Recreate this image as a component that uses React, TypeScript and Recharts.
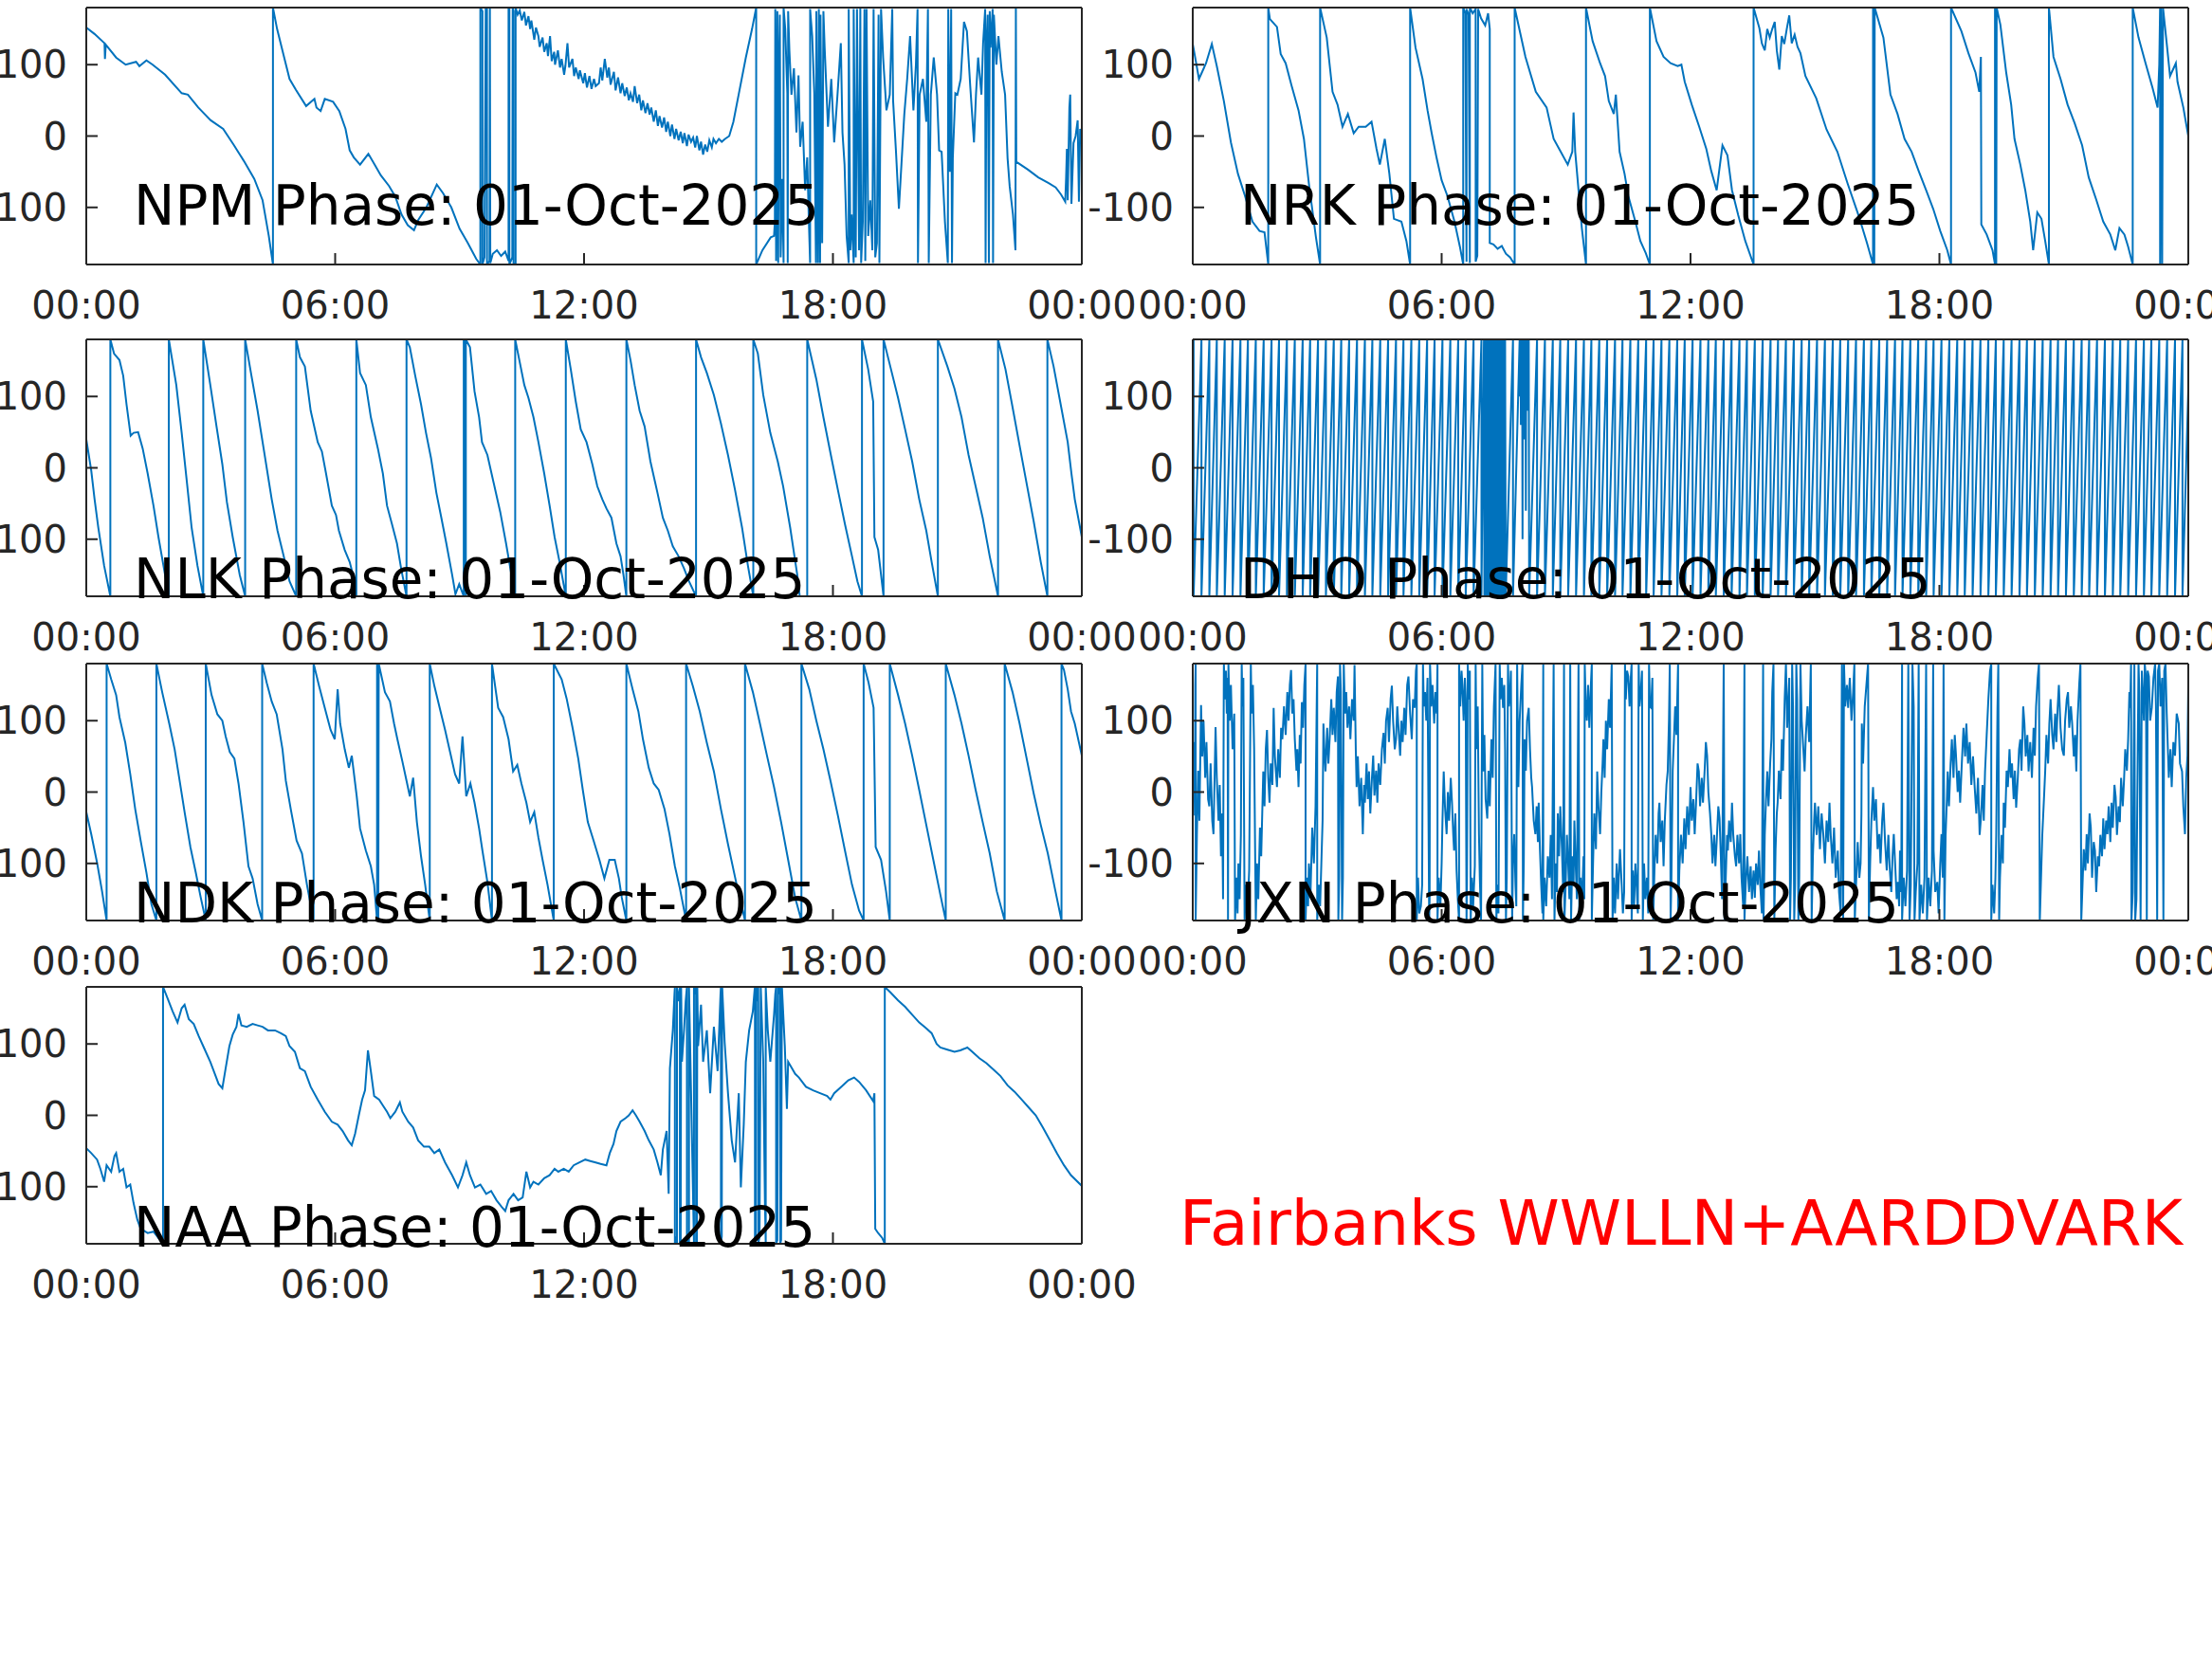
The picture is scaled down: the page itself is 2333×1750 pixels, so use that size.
import React from 'react';
import { LineChart, Line, XAxis, YAxis } from 'recharts';

type P = [number, number][];

const xTicks = [0, 6, 12, 18, 24];
const xTickLabels = ['00:00', '06:00', '12:00', '18:00', '00:00'];
const yTicks = [-100, 0, 100];
const dateLabel = '01-Oct-2025';
const footerText = 'Fairbanks WWLLN+AARDDVARK';

const npm: P = [
  [0,152],[0.2,143],[0.44,130],[0.45,108],[0.47,128],[0.72,110],[0.95,100],[1.2,104],[1.28,98],[1.45,106],[1.6,100],[1.9,86],[2.3,60],[2.45,58],[2.7,40],[3.0,22],[3.3,10],[3.55,-12],[3.8,-35],[4.05,-60],[4.25,-90],[4.4,-140],[4.5,-180],[4.5,180],[4.6,150],[4.75,115],[4.9,80],[5.05,65],[5.3,42],[5.5,52],[5.55,40],[5.65,35],[5.75,52],[5.95,48],[6.1,35],[6.25,10],[6.35,-20],[6.45,-30],[6.6,-40],[6.8,-25],[6.95,-40],[7.1,-55],[7.3,-70],[7.45,-85],[7.6,-110],[7.75,-125],[7.9,-132],[8.0,-118],[8.2,-100],[8.45,-68],[8.6,-80],[8.8,-100],[9.0,-130],[9.2,-150],[9.4,-172],[9.5,-180],[9.5,180],[9.55,175],[9.55,-180],[9.6,-170],[9.63,180],[9.66,178],[9.66,-180],[9.72,-175],[9.73,180],[9.74,-178],[9.8,-165],[9.9,-160],[10.0,-168],[10.1,-162],[10.18,-175],[10.18,180],[10.2,178],[10.2,-180],[10.27,-170],[10.28,180],[10.3,175],[10.3,-180],[10.35,-178],[10.35,180],
  [10.4,170],[10.45,176],[10.5,162],[10.56,174],[10.6,155],[10.66,168],[10.7,150],[10.73,162],[10.8,135],[10.84,152],[10.9,140],[10.93,125],[11.0,138],[11.04,118],[11.1,130],[11.13,112],[11.18,140],[11.22,105],[11.28,118],[11.3,100],[11.37,120],[11.42,96],[11.46,108],[11.52,86],[11.55,98],[11.6,130],[11.64,96],[11.72,108],[11.76,84],[11.8,96],[11.87,80],[11.9,92],[11.98,74],[12.02,88],[12.07,68],[12.13,84],[12.18,66],[12.24,80],[12.28,70],[12.36,74],[12.4,96],[12.44,78],[12.5,108],[12.56,82],[12.6,96],[12.64,72],[12.72,90],[12.76,64],[12.82,82],[12.88,60],[12.92,74],[12.98,56],[13.03,68],[13.08,50],[13.12,60],[13.18,48],[13.22,70],[13.28,46],[13.33,58],[13.38,36],[13.42,50],[13.48,32],[13.53,46],[13.58,30],[13.62,40],[13.68,20],[13.73,36],[13.78,14],[13.82,28],[13.88,12],[13.93,26],[13.98,6],[14.02,20],[14.08,0],[14.12,16],[14.18,-4],[14.22,10],[14.28,-6],[14.33,6],[14.38,-10],[14.42,4],[14.48,-14],[14.52,2],[14.58,-8],[14.63,-2],[14.68,-16],[14.72,0],[14.78,-20],[14.82,-8],[14.87,-26],[14.92,-12],[14.97,-22],[15.02,-6],[15.08,-16],[15.12,-4],[15.18,-10],[15.25,-4],[15.32,-8],[15.4,-4],[15.5,0],[15.6,20],[15.75,65],[15.9,110],[16.05,150],[16.15,180],[16.15,-180],[16.3,-160],[16.5,-142],[16.58,-140],
  [16.6,-120],[16.61,178],[16.63,-175],[16.66,175],[16.68,-178],[16.7,100],[16.72,170],[16.74,-170],[16.78,-60],[16.81,-178],[16.81,180],[16.85,150],[16.9,60],[16.91,-178],[16.92,175],[16.95,120],[17.0,58],[17.06,95],[17.12,5],[17.17,85],[17.21,-15],[17.27,20],[17.33,-76],[17.38,-30],[17.42,-120],[17.45,-178],[17.45,178],[17.5,140],[17.55,60],[17.59,-178],[17.6,175],[17.64,-178],[17.66,178],[17.69,-178],[17.7,170],[17.74,-150],[17.77,175],[17.8,124],[17.88,13],[17.96,80],[18.03,-9],[18.11,58],[18.19,130],[18.23,5],[18.28,-40],[18.33,-140],[18.38,-178],[18.38,178],[18.42,-160],[18.45,-110],[18.5,-178],[18.5,178],[18.55,-170],[18.58,178],[18.63,-160],[18.66,180],[18.68,-178],[18.72,-120],[18.76,178],[18.78,-175],[18.81,178],[18.85,-140],[18.9,-90],[18.95,-160],[18.98,178],[19.02,-170],[19.06,-150],[19.1,170],[19.12,-178],[19.16,178],[19.21,110],[19.29,36],[19.37,58],[19.43,178],[19.45,50],[19.52,-22],[19.59,-102],[19.66,-31],[19.72,30],[19.79,80],[19.86,140],[19.94,36],[20.0,100],[20.04,178],[20.05,-178],[20.09,58],[20.17,80],[20.25,20],[20.29,178],[20.31,-178],[20.36,58],[20.43,110],[20.51,58],[20.56,-20],[20.62,-22],[20.7,-120],[20.77,-178],[20.78,178],[20.82,-50],[20.85,178],[20.87,-178],[20.89,-31],[20.95,60],[21.0,58],[21.08,80],[21.16,160],[21.23,147],[21.31,70],[21.4,-9],[21.45,60],[21.5,110],[21.58,58],[21.62,130],[21.67,178],[21.68,-178],[21.7,120],[21.73,170],[21.76,-178],[21.78,175],[21.8,124],[21.85,178],[21.86,-178],[21.88,170],[21.94,100],[21.99,140],[22.07,90],[22.15,58],[22.21,-31],[22.26,-70],[22.34,-110],[22.4,-160],[22.41,180],[22.42,-36],
  [22.7,-47],[22.95,-58],[23.2,-66],[23.37,-72],[23.5,-82],[23.6,-92],[23.62,-60],[23.64,-18],[23.66,-90],[23.7,40],[23.72,58],[23.75,-95],[23.8,-10],[23.85,0],[23.9,22],[23.93,-92],[23.96,10],[24,-5]
];

const nrk: P = [
  [0,129],[0.15,80],[0.32,102],[0.46,129],[0.58,98],[0.75,49],[0.92,-9],[1.09,-53],[1.26,-84],[1.44,-120],[1.61,-133],[1.73,-135],[1.82,-180],[1.82,180],[1.86,164],[2.03,153],[2.12,115],[2.24,102],[2.38,71],[2.55,36],[2.68,-4],[2.8,-67],[2.97,-142],[3.07,-180],[3.07,180],[3.23,138],[3.37,62],[3.49,44],[3.61,13],[3.74,31],[3.88,4],[4.0,13],[4.17,13],[4.31,20],[4.43,-18],[4.51,-40],[4.63,-4],[4.74,-53],[4.85,-116],[5.03,-120],[5.15,-147],[5.24,-180],[5.24,180],[5.37,124],[5.54,80],[5.66,36],[5.76,4],[5.88,-31],[6.0,-62],[6.14,-84],[6.31,-120],[6.44,-155],[6.52,-180],[6.52,180],[6.57,172],[6.6,-176],[6.6,178],[6.65,170],[6.68,-178],[6.68,180],[6.75,172],[6.82,178],[6.82,-176],[6.86,-168],[6.88,178],[6.95,165],[7.05,155],[7.12,172],[7.16,150],[7.16,-150],[7.25,-152],[7.35,-158],[7.45,-154],[7.55,-165],[7.65,-170],[7.76,-180],[7.76,180],[8.02,111],[8.27,62],[8.53,40],[8.7,-4],[8.87,-22],[9.04,-40],[9.15,-22],[9.18,33],[9.22,-22],[9.38,-129],[9.48,-180],[9.48,180],[9.64,133],[9.82,102],[9.94,84],[10.03,49],[10.15,31],[10.2,58],[10.29,-22],[10.41,-53],[10.5,-84],[10.67,-120],[10.79,-147],[10.92,-164],[11.02,-180],[11.02,180],[11.18,133],[11.35,111],[11.52,102],[11.69,98],[11.78,100],[11.86,76],[12.03,44],[12.21,13],[12.38,-18],[12.5,-49],[12.63,-76],[12.77,-13],[12.89,-27],[13.0,-76],[13.15,-111],[13.32,-147],[13.52,-180],[13.52,180],[13.66,151],[13.72,130],[13.79,120],[13.85,150],[13.91,138],[13.97,150],[14.03,160],[14.08,120],[14.14,93],[14.2,140],[14.26,129],[14.32,150],[14.38,169],[14.44,130],[14.51,142],[14.58,125],[14.65,116],[14.77,84],[15.03,53],[15.28,9],[15.54,-22],[15.79,-67],[16.05,-111],[16.26,-151],[16.4,-180],[16.4,180],[16.42,178],[16.43,-180],[16.44,180],[16.65,138],[16.82,58],[16.99,31],[17.16,-4],[17.33,-22],[17.5,-49],[17.68,-76],[17.85,-102],[18.02,-133],[18.19,-160],[18.28,-180],[18.28,180],[18.53,147],[18.7,116],[18.87,89],[18.96,62],[19.0,111],[19.01,-124],[19.14,-138],[19.28,-160],[19.34,-180],[19.34,180],[19.36,178],[19.37,-180],[19.38,180],[19.47,156],[19.61,89],[19.73,44],[19.81,-4],[19.95,-40],[20.07,-76],[20.19,-120],[20.26,-160],[20.36,-107],[20.46,-116],[20.55,-147],[20.64,-180],[20.64,180],[20.75,111],[20.92,80],[21.09,44],[21.26,18],[21.44,-13],[21.6,-58],[21.78,-89],[21.95,-120],[22.12,-138],[22.24,-160],[22.34,-129],[22.46,-138],[22.55,-155],[22.66,-180],[22.66,180],[22.8,138],[22.97,102],[23.14,67],[23.26,40],[23.3,100],[23.32,180],[23.32,-180],[23.34,180],[23.37,-180],[23.39,180],[23.49,124],[23.56,84],[23.7,102],[23.74,76],[23.88,40],[24,0]
];

const nlk: P = [
  [0,40],[0.12,-4],[0.2,-44],[0.29,-84],[0.43,-137],[0.58,-180],[0.58,180],[0.67,160],[0.8,151],[0.89,129],[0.97,89],[1.07,45],[1.14,49],[1.25,50],[1.36,27],[1.48,-8],[1.62,-53],[1.74,-97],[1.86,-137],[1.99,-180],[1.99,180],[2.17,116],[2.3,49],[2.42,-17],[2.54,-84],[2.68,-137],[2.82,-180],[2.82,180],[2.99,116],[3.14,58],[3.28,5],[3.39,-48],[3.53,-97],[3.7,-150],[3.83,-180],[3.83,180],[3.97,133],[4.13,80],[4.3,18],[4.47,-44],[4.61,-88],[4.76,-124],[4.9,-159],[5.06,-180],[5.06,180],[5.15,155],[5.27,142],[5.41,80],[5.58,36],[5.68,23],[5.78,-8],[5.92,-53],[6.02,-66],[6.09,-88],[6.23,-115],[6.35,-132],[6.43,-150],[6.51,-180],[6.51,180],[6.6,133],[6.74,116],[6.86,71],[7.03,27],[7.15,-8],[7.25,-53],[7.37,-79],[7.49,-106],[7.59,-141],[7.72,-180],[7.72,180],[7.8,169],[7.93,129],[8.07,89],[8.19,49],[8.31,14],[8.44,-35],[8.56,-70],[8.68,-106],[8.82,-150],[8.9,-177],[8.99,-163],[9.1,-180],[9.1,180],[9.12,175],[9.15,-180],[9.15,180],[9.25,169],[9.36,107],[9.47,71],[9.54,36],[9.67,18],[9.84,-26],[9.98,-62],[10.12,-106],[10.25,-150],[10.34,-180],[10.34,180],[10.44,151],[10.56,116],[10.66,98],[10.78,71],[10.9,36],[11.04,-8],[11.17,-53],[11.29,-97],[11.41,-132],[11.56,-180],[11.56,180],[11.68,138],[11.8,93],[11.92,54],[12.06,36],[12.2,5],[12.32,-26],[12.44,-44],[12.54,-57],[12.66,-70],[12.78,-106],[12.88,-124],[12.95,-150],[13.02,-180],[13.02,180],[13.12,151],[13.22,116],[13.34,80],[13.46,58],[13.6,9],[13.77,-35],[13.9,-70],[14.02,-88],[14.14,-110],[14.28,-124],[14.41,-141],[14.53,-159],[14.7,-180],[14.7,180],[14.82,155],[14.96,133],[15.13,102],[15.3,62],[15.47,18],[15.64,-31],[15.81,-84],[15.95,-137],[16.08,-180],[16.08,180],[16.19,160],[16.32,102],[16.49,49],[16.67,9],[16.8,-26],[16.97,-84],[17.14,-150],[17.2,-180],[17.38,-180],[17.38,180],[17.6,124],[17.77,71],[17.95,18],[18.12,-31],[18.29,-79],[18.46,-124],[18.59,-159],[18.7,-180],[18.7,180],[18.85,138],[18.97,93],[19.0,-97],[19.09,-115],[19.22,-180],[19.22,180],[19.4,138],[19.57,98],[19.74,54],[19.91,9],[20.08,-44],[20.25,-88],[20.38,-132],[20.53,-180],[20.53,180],[20.76,142],[20.93,111],[21.1,71],[21.27,18],[21.44,-26],[21.61,-70],[21.78,-124],[21.92,-163],[21.98,-180],[21.98,180],[22.16,138],[22.33,85],[22.5,31],[22.67,-22],[22.84,-75],[23.01,-132],[23.17,-180],[23.17,180],[23.32,142],[23.49,89],[23.66,36],[23.75,-8],[23.83,-44],[24,-97]
];

const dhoWrapsEarly = [0.02,0.21,0.40,0.58,0.77,0.96,1.15,1.33,1.52,1.71,1.90,2.08,2.27,2.46,2.65,2.83,3.02,3.21,3.40,3.58,3.77,3.96,4.15,4.33,4.52,4.71,4.90,5.08,5.27,5.46,5.65,5.83,6.02,6.21,6.40,6.58,6.77,6.96];
const dhoBurst: P = [
  [7.02,180],[7.03,-180],[7.045,180],[7.06,-180],[7.075,180],[7.09,-180],[7.1,180],[7.115,-180],[7.13,180],[7.145,-180],[7.16,180],[7.17,-180],[7.185,180],[7.2,-180],[7.215,180],[7.23,-180],[7.245,180],[7.26,-180],[7.27,180],[7.285,-180],[7.3,180],[7.315,-180],[7.33,180],[7.345,-180],[7.36,180],[7.37,-180],[7.385,180],[7.4,-180],[7.415,180],[7.43,-180],[7.445,180],[7.46,-180],[7.47,180],[7.485,-180],[7.5,180],[7.515,-180],[7.53,180],[7.545,-180],
  [7.72,180],[7.72,-180],[7.88,180],[7.89,100],[7.9,180],[7.91,60],[7.92,180],[7.93,120],[7.94,180],[7.95,-100],[7.96,180],[7.97,100],[7.98,180],[7.99,40],[8.0,180],[8.01,110],[8.02,180],[8.03,-60],[8.04,180],[8.05,100],[8.06,180],[8.07,80],[8.08,180],[8.09,120],[8.1,180],[8.11,-180]
];
const dhoWrapsLate = [8.30,8.49,8.68,8.86,9.05,9.24,9.43,9.61,9.80,9.99,10.18,10.36,10.55,10.74,10.93,11.11,11.30,11.49,11.68,11.86,12.05,12.24,12.43,12.61,12.80,12.99,13.18,13.36,13.55,13.74,13.93,14.11,14.30,14.49,14.68,14.86,15.05,15.24,15.43,15.61,15.80,15.99,16.18,16.36,16.55,16.74,16.93,17.11,17.30,17.49,17.68,17.86,18.05,18.24,18.43,18.61,18.80,18.99,19.18,19.36,19.55,19.74,19.93,20.11,20.30,20.49,20.68,20.86,21.05,21.24,21.43,21.61,21.80,21.99,22.18,22.36,22.55,22.74,22.93,23.11,23.30,23.49,23.68,23.86];
const dhoStart: [number, number] = [0, 140];
const dhoEnd: [number, number] = [24, 110];

const ndk: P = [
  [0,-28],[0.12,-59],[0.26,-99],[0.38,-139],[0.49,-180],[0.49,180],[0.6,158],[0.72,136],[0.8,105],[0.94,69],[1.06,25],[1.18,-24],[1.31,-68],[1.45,-113],[1.57,-157],[1.69,-180],[1.69,180],[1.83,140],[2.0,96],[2.13,60],[2.25,16],[2.37,-28],[2.51,-77],[2.64,-113],[2.76,-148],[2.88,-180],[2.88,180],[3.02,136],[3.16,109],[3.28,100],[3.36,78],[3.46,56],[3.57,47],[3.67,12],[3.79,-42],[3.91,-104],[4.01,-121],[4.13,-157],[4.24,-180],[4.24,180],[4.35,153],[4.47,127],[4.59,109],[4.73,60],[4.81,16],[4.93,-24],[5.07,-68],[5.2,-86],[5.32,-130],[5.48,-180],[5.48,180],[5.61,149],[5.75,118],[5.89,87],[5.99,74],[6.06,144],[6.12,96],[6.23,60],[6.33,34],[6.4,51],[6.52,-6],[6.6,-51],[6.74,-82],[6.86,-104],[6.94,-130],[7.01,-180],[7.01,180],[7.03,170],[7.04,-180],[7.05,180],[7.2,140],[7.32,127],[7.42,96],[7.5,74],[7.62,43],[7.72,16],[7.8,-6],[7.88,20],[7.97,-42],[8.07,-90],[8.17,-130],[8.28,-180],[8.28,180],[8.39,149],[8.52,118],[8.65,87],[8.77,56],[8.89,25],[8.99,12],[9.07,78],[9.16,-6],[9.26,12],[9.36,-15],[9.47,-51],[9.55,-82],[9.67,-126],[9.78,-180],[9.78,180],[9.93,118],[10.05,105],[10.18,74],[10.29,29],[10.39,38],[10.49,12],[10.61,-15],[10.7,-42],[10.8,-28],[10.9,-64],[11.0,-95],[11.12,-130],[11.27,-180],[11.27,180],[11.38,167],[11.46,158],[11.58,131],[11.72,91],[11.86,47],[11.97,3],[12.09,-42],[12.23,-68],[12.37,-95],[12.49,-121],[12.61,-95],[12.74,-95],[12.84,-121],[12.91,-148],[13.02,-180],[13.02,180],[13.17,144],[13.31,113],[13.42,74],[13.56,34],[13.68,12],[13.8,3],[13.94,-24],[14.06,-59],[14.19,-104],[14.31,-135],[14.46,-180],[14.46,180],[14.62,149],[14.79,113],[14.96,69],[15.13,29],[15.3,-24],[15.47,-73],[15.68,-130],[15.88,-180],[15.88,180],[16.07,140],[16.24,96],[16.41,51],[16.58,7],[16.75,-42],[16.92,-95],[17.09,-148],[17.24,-180],[17.24,180],[17.43,144],[17.6,100],[17.77,60],[17.94,16],[18.12,-33],[18.29,-82],[18.46,-130],[18.63,-166],[18.74,-180],[18.74,180],[18.86,153],[18.98,118],[19.03,-77],[19.16,-95],[19.28,-139],[19.37,-180],[19.37,180],[19.57,136],[19.74,96],[19.91,51],[20.08,3],[20.25,-46],[20.42,-95],[20.59,-144],[20.72,-180],[20.72,180],[20.93,136],[21.1,96],[21.27,51],[21.44,3],[21.61,-42],[21.78,-86],[21.95,-139],[22.14,-180],[22.14,180],[22.33,140],[22.5,96],[22.67,47],[22.84,-2],[23.01,-46],[23.18,-86],[23.35,-135],[23.51,-180],[23.51,180],[23.57,171],[23.66,144],[23.74,113],[23.83,96],[24,51]
];

const jxn: P = [
  [0,29],[0.03,70],[0.05,-33],[0.06,150],[0.07,180],[0.07,-180],[0.1,-60],[0.13,30],[0.16,-40],[0.2,122],[0.23,50],[0.26,100],[0.3,20],[0.33,70],[0.37,-10],[0.4,-20],[0.43,40],[0.47,-40],[0.5,-59],[0.53,30],[0.55,91],[0.58,20],[0.62,-40],[0.65,10],[0.68,-90],[0.71,-30],[0.73,-150],[0.75,180],[0.78,130],[0.8,170],[0.82,110],[0.84,160],[0.85,-180],[0.86,180],[0.89,100],[0.92,150],[0.96,60],
  [1.0,110],[1.02,-180],[1.05,-120],[1.08,-170],[1.1,-100],[1.13,-150],[1.16,-60],[1.18,180],[1.2,120],[1.22,160],[1.25,-180],[1.28,-130],[1.32,-170],[1.36,-110],[1.4,180],[1.42,110],[1.45,150],[1.48,60],[1.52,-180],[1.55,-100],[1.58,-150],[1.62,-50],[1.65,-90],[1.7,29],[1.73,-20],[1.76,60],[1.79,87],[1.82,20],[1.85,-15],[1.88,40],[1.92,10],[1.95,118],[1.98,50],
  [2.03,7],[2.06,60],[2.1,20],[2.13,90],[2.16,74],[2.2,120],[2.24,80],[2.28,140],[2.31,100],[2.34,150],[2.37,171],[2.4,110],[2.43,130],[2.46,74],[2.5,30],[2.52,60],[2.55,7],[2.58,80],[2.6,40],[2.63,126],[2.66,90],[2.69,150],[2.72,180],[2.72,-180],[2.75,-120],[2.78,-160],[2.8,-100],[2.84,-140],[2.88,-50],[2.92,-100],[2.96,-20],
  [3.0,180],[3.0,-180],[3.04,-130],[3.07,-160],[3.1,-100],[3.13,-40],[3.15,96],[3.18,50],[3.2,29],[3.24,90],[3.27,40],[3.3,74],[3.34,130],[3.37,80],[3.4,118],[3.44,70],[3.47,140],[3.5,162],[3.51,-180],[3.53,-120],[3.55,180],[3.57,140],[3.6,-180],[3.62,-120],[3.64,180],[3.67,110],[3.7,140],[3.73,90],[3.77,120],[3.8,74],[3.84,130],[3.88,100],[3.9,178],[3.93,60],[3.95,7],[3.98,50],
  [4.02,-20],[4.06,20],[4.1,-59],[4.13,10],[4.15,-15],[4.19,40],[4.22,-10],[4.25,29],[4.28,-30],[4.32,20],[4.35,51],[4.38,-5],[4.42,30],[4.45,-15],[4.48,40],[4.52,10],[4.56,60],[4.6,83],[4.63,40],[4.66,100],[4.7,118],[4.73,70],[4.77,130],[4.8,149],[4.83,100],[4.87,60],[4.9,74],[4.93,120],[4.97,80],
  [5.0,51],[5.03,100],[5.06,70],[5.1,118],[5.13,80],[5.17,150],[5.2,162],[5.24,110],[5.28,74],[5.31,130],[5.35,118],[5.38,170],[5.4,180],[5.4,-180],[5.43,-120],[5.46,-170],[5.5,-160],[5.53,-130],[5.55,180],[5.57,120],[5.6,140],[5.63,100],[5.66,160],[5.7,-180],[5.71,-150],[5.72,180],[5.75,120],[5.78,150],[5.82,96],[5.85,140],[5.88,110],[5.9,180],[5.9,-180],[5.93,-120],[5.97,-160],
  [6.0,-100],[6.02,-40],[6.05,29],[6.08,-20],[6.12,-59],[6.15,0],[6.18,-40],[6.22,20],[6.25,-15],[6.28,-60],[6.3,-82],[6.33,-30],[6.36,-110],[6.39,-150],[6.42,-180],[6.42,180],[6.45,120],[6.48,170],[6.5,150],[6.53,100],[6.56,160],[6.58,130],[6.6,-180],[6.61,-130],[6.63,180],[6.65,130],[6.68,170],[6.7,-180],[6.73,-120],[6.76,-160],[6.8,-104],[6.82,180],[6.84,60],[6.87,120],[6.9,-60],[6.92,-120],[6.95,-180],[6.98,180],
  [7.0,29],[7.03,80],[7.06,-10],[7.1,-37],[7.13,30],[7.16,-20],[7.2,74],[7.23,20],[7.26,120],[7.28,150],[7.3,180],[7.32,-180],[7.34,-130],[7.37,-170],[7.4,180],[7.42,130],[7.45,160],[7.48,118],[7.51,150],[7.53,60],[7.55,-180],[7.57,-120],[7.6,180],[7.62,120],[7.65,140],[7.67,170],[7.7,-180],[7.72,-100],[7.75,-59],[7.78,-130],[7.8,-160],[7.82,180],[7.84,60],[7.85,7],[7.88,100],[7.92,150],[7.95,180],[7.96,-180],[7.98,-100],
  [8.0,74],[8.03,30],[8.06,100],[8.1,118],[8.13,60],[8.16,20],[8.18,7],[8.22,-40],[8.26,-59],[8.29,-20],[8.32,-70],[8.34,-15],[8.37,-80],[8.4,-130],[8.43,-170],[8.45,180],[8.45,-180],[8.48,-120],[8.52,-160],[8.56,-90],[8.6,-120],[8.63,-60],[8.66,-150],[8.7,180],[8.72,-180],[8.75,-100],[8.78,-140],[8.8,-30],[8.83,-90],[8.86,-20],[8.9,-80],[8.93,-140],[8.95,180],[8.96,-180],[8.99,-130],
  [9.02,-60],[9.05,-100],[9.08,-150],[9.1,180],[9.12,-180],[9.15,-90],[9.18,-130],[9.2,-40],[9.23,-100],[9.26,-150],[9.3,180],[9.32,-180],[9.35,-120],[9.38,-160],[9.42,-90],[9.44,-150],[9.45,180],[9.47,130],[9.5,100],[9.53,150],[9.56,90],[9.59,140],[9.62,180],[9.62,-180],[9.65,-100],[9.68,-30],[9.72,-80],[9.75,29],[9.78,-20],[9.82,-59],[9.85,0],[9.88,40],[9.9,74],[9.93,20],[9.96,100],[9.99,60],
  [10.03,130],[10.06,90],[10.1,180],[10.12,-180],[10.15,-120],[10.18,-170],[10.22,-100],[10.25,-150],[10.3,-80],[10.34,-130],[10.37,-170],[10.4,-140],[10.42,180],[10.44,130],[10.47,170],[10.5,162],[10.53,120],[10.56,160],[10.58,180],[10.58,-180],[10.61,-110],[10.64,-160],[10.67,-100],[10.7,-130],[10.73,-170],[10.75,180],[10.77,120],[10.8,140],[10.83,170],[10.85,-180],[10.88,-100],[10.91,-150],[10.95,-120],[10.98,-170],
  [11.0,180],[11.02,120],[11.05,118],[11.08,160],[11.1,-180],[11.13,-110],[11.16,-60],[11.2,-100],[11.23,-30],[11.25,-15],[11.28,-70],[11.32,-40],[11.35,-104],[11.38,-40],[11.42,10],[11.45,29],[11.48,100],[11.5,180],[11.52,-180],[11.54,-120],[11.57,30],[11.6,74],[11.63,120],[11.66,80],[11.7,180],[11.7,-180],[11.73,-110],[11.77,-60],[11.81,-100],[11.85,-37],[11.88,-80],[11.92,-20],[11.96,-60],
  [12.0,7],[12.03,-40],[12.07,-10],[12.1,-59],[12.13,-20],[12.17,40],[12.2,29],[12.23,-20],[12.27,20],[12.3,-15],[12.34,30],[12.37,70],[12.4,51],[12.43,0],[12.47,-30],[12.5,-59],[12.53,-100],[12.57,-60],[12.6,-104],[12.63,-70],[12.67,-20],[12.7,-37],[12.73,-90],[12.76,-150],[12.8,180],[12.82,-180],[12.85,-120],[12.88,-60],[12.9,-82],[12.93,-40],[12.97,-70],
  [13.0,-15],[13.03,-60],[13.07,-90],[13.1,-104],[13.13,-60],[13.17,-100],[13.2,-59],[13.23,-120],[13.27,-160],[13.3,180],[13.3,-180],[13.33,-130],[13.37,-90],[13.41,-140],[13.45,-104],[13.48,-150],[13.52,-110],[13.55,-148],[13.58,-100],[13.62,-130],[13.65,-82],[13.68,-130],[13.72,-170],[13.75,180],[13.76,-180],[13.79,-60],[13.82,-10],[13.85,29],[13.88,-20],[13.92,40],[13.95,74],[13.97,140],
  [14.0,180],[14.02,-180],[14.05,-80],[14.08,-30],[14.1,-15],[14.13,30],[14.17,-10],[14.2,74],[14.23,30],[14.27,130],[14.3,180],[14.33,90],[14.35,118],[14.38,160],[14.4,-180],[14.42,-120],[14.45,180],[14.47,120],[14.5,-180],[14.52,-130],[14.55,180],[14.57,130],[14.6,-180],[14.62,-120],[14.65,180],[14.68,100],[14.72,60],[14.75,29],[14.78,80],[14.82,120],[14.86,70],[14.9,180],[14.92,-180],[14.95,-90],[14.98,-40],
  [15.0,-15],[15.04,-60],[15.08,-20],[15.12,-80],[15.16,-30],[15.2,-59],[15.24,-100],[15.28,-40],[15.32,-70],[15.35,-15],[15.38,-60],[15.42,-100],[15.46,-50],[15.5,-120],[15.55,-82],[15.58,-140],[15.62,-170],[15.65,180],[15.68,-180],[15.7,180],[15.73,120],[15.77,150],[15.8,118],[15.84,160],[15.88,100],[15.92,140],[15.95,180],[15.96,-180],[15.99,-130],
  [16.03,-70],[16.07,-120],[16.1,-100],[16.12,-30],[16.13,96],[16.16,40],[16.2,120],[16.24,150],[16.28,180],[16.3,-180],[16.33,-100],[16.36,-40],[16.4,7],[16.43,-40],[16.47,-10],[16.51,-80],[16.55,-59],[16.58,-100],[16.62,-40],[16.65,-15],[16.69,-70],[16.73,-110],[16.77,-60],[16.8,-104],[16.84,-140],[16.87,-90],[16.9,-59],[16.94,-110],[16.97,-150],
  [17.0,-126],[17.03,-160],[17.05,-82],[17.08,-140],[17.1,180],[17.1,-180],[17.14,-120],[17.18,-160],[17.22,-110],[17.25,180],[17.28,-180],[17.31,-130],[17.35,180],[17.38,120],[17.4,-180],[17.43,-140],[17.47,-100],[17.5,180],[17.52,-180],[17.56,-130],[17.6,-170],[17.64,-120],[17.68,180],[17.7,-180],[17.74,-120],[17.78,-160],[17.82,-110],[17.85,180],[17.86,-82],[17.9,-140],[17.95,-126],[17.98,-170],
  [18.02,-100],[18.05,-59],[18.08,-120],[18.1,180],[18.12,-180],[18.15,-60],[18.18,-10],[18.2,29],[18.23,-20],[18.27,40],[18.3,74],[18.34,20],[18.37,80],[18.4,51],[18.44,0],[18.47,30],[18.5,-15],[18.54,40],[18.58,90],[18.62,50],[18.65,96],[18.69,40],[18.73,70],[18.77,10],[18.81,50],[18.85,7],[18.89,-30],[18.93,20],[18.97,-60],
  [19.0,-37],[19.04,10],[19.07,-40],[19.1,29],[19.14,80],[19.18,130],[19.22,170],[19.25,180],[19.25,-180],[19.28,-130],[19.32,-170],[19.35,-120],[19.37,-60],[19.4,118],[19.42,180],[19.44,-180],[19.46,-120],[19.5,-60],[19.53,-100],[19.55,-15],[19.58,-50],[19.62,30],[19.65,7],[19.69,60],[19.72,20],[19.75,40],[19.79,-10],[19.82,30],[19.85,-22],[19.89,20],[19.92,60],[19.95,74],[19.98,30],
  [20.02,120],[20.05,96],[20.08,50],[20.12,80],[20.15,29],[20.19,70],[20.23,20],[20.27,90],[20.3,51],[20.33,120],[20.37,160],[20.4,180],[20.42,-180],[20.45,-120],[20.48,-60],[20.52,-10],[20.55,29],[20.58,80],[20.62,40],[20.65,96],[20.68,130],[20.72,80],[20.75,60],[20.79,110],[20.82,70],[20.85,118],[20.88,150],[20.92,90],[20.96,60],
  [21.0,51],[21.03,100],[21.07,130],[21.1,140],[21.13,90],[21.17,120],[21.2,96],[21.24,50],[21.27,80],[21.3,29],[21.33,100],[21.37,150],[21.4,180],[21.42,-180],[21.45,-130],[21.48,-80],[21.52,-110],[21.55,-59],[21.58,-100],[21.62,-30],[21.65,-50],[21.68,-120],[21.72,-70],[21.75,-82],[21.78,-140],[21.82,-90],[21.85,-104],[21.88,-60],[21.92,-90],[21.95,-37],[21.98,-80],
  [22.02,-40],[22.05,-59],[22.08,-20],[22.12,-70],[22.15,-15],[22.18,-50],[22.22,10],[22.25,-7],[22.28,-60],[22.32,-20],[22.35,-42],[22.38,20],[22.42,-20],[22.45,16],[22.48,60],[22.52,30],[22.55,74],[22.58,140],[22.6,118],[22.62,180],[22.63,-180],[22.66,-140],[22.7,180],[22.72,-180],[22.75,-150],[22.8,180],[22.82,140],[22.85,-180],[22.88,170],[22.9,140],[22.93,100],[22.95,180],[22.98,160],
  [23.0,-180],[23.02,170],[23.05,162],[23.08,100],[23.12,118],[23.16,160],[23.2,180],[23.22,120],[23.25,-180],[23.27,170],[23.3,180],[23.33,120],[23.37,160],[23.4,-180],[23.42,170],[23.45,180],[23.48,110],[23.5,74],[23.53,20],[23.57,60],[23.6,7],[23.64,70],[23.68,51],[23.72,110],[23.77,96],[23.8,40],[23.85,29],[23.88,-20],[23.92,-59],[23.95,20],[23.98,51],[24,150]
];

const naa: P = [
  [0,-46],[0.12,-53],[0.26,-62],[0.34,-75],[0.43,-93],[0.49,-70],[0.6,-79],[0.68,-57],[0.72,-53],[0.8,-79],[0.89,-75],[0.97,-101],[1.06,-97],[1.14,-123],[1.23,-146],[1.31,-159],[1.48,-165],[1.62,-163],[1.74,-172],[1.85,-180],[1.85,180],[1.96,164],[2.08,146],[2.2,130],[2.3,150],[2.37,155],[2.47,135],[2.59,128],[2.71,111],[2.85,93],[2.99,75],[3.1,58],[3.19,44],[3.28,38],[3.36,66],[3.45,97],[3.53,113],[3.62,124],[3.67,142],[3.74,126],[3.87,124],[4.01,128],[4.13,126],[4.25,124],[4.38,119],[4.55,119],[4.69,115],[4.81,111],[4.9,97],[5.03,89],[5.15,66],[5.27,62],[5.41,40],[5.58,22],[5.75,5],[5.92,-9],[6.06,-13],[6.18,-22],[6.31,-35],[6.4,-42],[6.48,-26],[6.57,0],[6.65,22],[6.72,35],[6.79,91],[6.86,62],[6.94,27],[7.06,22],[7.16,13],[7.25,5],[7.33,-4],[7.45,5],[7.56,18],[7.62,5],[7.76,-9],[7.88,-17],[8.0,-35],[8.14,-44],[8.27,-44],[8.39,-53],[8.51,-48],[8.65,-66],[8.82,-84],[8.96,-101],[9.07,-84],[9.16,-66],[9.25,-84],[9.37,-101],[9.5,-97],[9.64,-110],[9.76,-106],[9.89,-119],[10.01,-128],[10.1,-134],[10.18,-119],[10.3,-110],[10.41,-119],[10.52,-115],[10.61,-79],[10.7,-101],[10.78,-93],[10.9,-97],[11.04,-88],[11.17,-84],[11.29,-75],[11.38,-79],[11.51,-75],[11.63,-79],[11.75,-70],[11.89,-66],[12.03,-62],[12.15,-64],[12.28,-66],[12.4,-68],[12.54,-70],[12.62,-53],[12.71,-40],[12.78,-22],[12.88,-9],[13.0,-4],[13.08,0],[13.17,7],[13.25,0],[13.34,-9],[13.46,-22],[13.56,-35],[13.68,-48],[13.77,-66],[13.85,-84],[13.9,-48],[13.99,-22],
  [14.04,-110],[14.07,66],[14.14,119],[14.18,170],[14.19,180],[14.19,-180],[14.22,-170],[14.24,-180],[14.24,180],[14.28,160],[14.31,180],[14.31,-180],[14.33,-175],[14.34,180],[14.36,75],[14.41,119],[14.45,160],[14.48,180],[14.48,-180],[14.5,-176],[14.53,-180],[14.53,180],[14.58,31],[14.63,-120],[14.65,-180],[14.65,180],[14.68,170],[14.7,180],[14.7,-180],[14.72,-178],[14.73,180],[14.75,97],[14.82,155],[14.87,75],[14.96,119],[15.04,31],[15.13,124],[15.22,62],[15.29,170],[15.3,180],[15.3,-180],[15.32,-170],[15.33,180],[15.39,102],[15.47,31],[15.56,-35],[15.64,-66],[15.73,31],[15.78,-101],[15.85,-13],[15.9,75],[15.98,119],[16.07,146],[16.11,175],[16.12,180],[16.12,-180],[16.14,-175],[16.15,180],[16.18,160],[16.2,180],[16.2,-180],[16.23,-170],[16.26,180],[16.32,75],[16.36,-120],[16.38,-180],[16.38,180],[16.43,119],[16.49,75],[16.58,141],[16.61,170],[16.63,180],[16.63,-180],[16.66,-175],[16.68,180],[16.7,170],[16.73,180],[16.73,-180],[16.75,-175],[16.77,180],[16.84,97],[16.89,9],[16.92,75],
  [17.01,66],[17.09,58],[17.18,53],[17.35,40],[17.52,35],[17.69,31],[17.86,27],[17.94,22],[18.03,31],[18.2,40],[18.37,49],[18.51,53],[18.63,47],[18.8,35],[18.97,20],[19.0,31],[19.02,-159],[19.09,-165],[19.19,-172],[19.25,-180],[19.25,180],[19.39,172],[19.57,161],[19.74,152],[19.91,141],[20.08,130],[20.25,122],[20.38,115],[20.5,100],[20.59,95],[20.76,92],[20.93,89],[21.07,91],[21.24,95],[21.36,89],[21.53,80],[21.7,73],[21.87,64],[22.04,55],[22.21,42],[22.38,33],[22.55,22],[22.72,11],[22.89,0],[23.06,-17],[23.23,-35],[23.4,-53],[23.57,-70],[23.74,-84],[24,-99]
];

function buildDho(): P {
  const out: P = [dhoStart];
  dhoWrapsEarly.forEach((w) => { out.push([w, 180]); out.push([w, -180]); });
  dhoBurst.forEach((p) => out.push(p));
  dhoWrapsLate.forEach((w) => { out.push([w, 180]); out.push([w, -180]); });
  out.push(dhoEnd);
  return out;
}

const toRows = (p: P) => p.map(([t, v]) => ({ t, v }));

const PLOT_W = 1050;
const PLOT_H = 271;
const AXIS_W = 91;
const LEFT_M = 50;
const RIGHT_M = 80;
const TOP_M = 10;
const X_H = 85;
const COL_X = [91, 1258];
const ROW_Y = [8, 358, 700, 1041];
const LABEL_BASE = [229, 273, 273, 274];
const AXIS_COLOR = '#262626';
const LINE_COLOR = '#0072BD';

const panels = [
  { name: 'NPM', data: npm, col: 0, row: 0 },
  { name: 'NRK', data: nrk, col: 1, row: 0 },
  { name: 'NLK', data: nlk, col: 0, row: 1 },
  { name: 'DHO', data: buildDho(), col: 1, row: 1 },
  { name: 'NDK', data: ndk, col: 0, row: 2 },
  { name: 'JXN', data: jxn, col: 1, row: 2 },
  { name: 'NAA', data: naa, col: 0, row: 3 },
];

function Panel({ data, left, top }: { data: P; left: number; top: number }) {
  const rows = toRows(data);
  const axisLine = { stroke: AXIS_COLOR, strokeWidth: 2 };
  const tickLine = { stroke: AXIS_COLOR, strokeWidth: 2 };
  return (
    <div style={{ position: 'absolute', left: left - AXIS_W - LEFT_M, top: top - TOP_M }}>
      <LineChart
        width={LEFT_M + AXIS_W + PLOT_W + RIGHT_M}
        height={TOP_M + PLOT_H + X_H}
        data={rows}
        margin={{ top: TOP_M, right: RIGHT_M, bottom: 0, left: LEFT_M }}
      >
        <XAxis
          dataKey="t"
          type="number"
          domain={[0, 24]}
          ticks={xTicks}
          interval={0}
          allowDataOverflow
          tickFormatter={(v: number) => xTickLabels[xTicks.indexOf(v)]}
          height={X_H}
          tickSize={-12}
          tickMargin={41}
          axisLine={axisLine}
          tickLine={tickLine}
          tick={{ fill: AXIS_COLOR, fontSize: 40 }}
        />
        <XAxis
          xAxisId="top"
          orientation="top"
          mirror
          type="number"
          domain={[0, 24]}
          ticks={xTicks}
          interval={0}
          allowDataOverflow
          height={1}
          tickSize={12}
          tick={false}
          axisLine={axisLine}
          tickLine={tickLine}
        />
        <YAxis
          type="number"
          domain={[-180, 180]}
          ticks={yTicks}
          interval={0}
          allowDataOverflow
          width={AXIS_W}
          tickSize={-12}
          tickMargin={32}
          axisLine={axisLine}
          tickLine={tickLine}
          tick={{ fill: AXIS_COLOR, fontSize: 40 }}
        />
        <YAxis
          yAxisId="right"
          orientation="right"
          mirror
          type="number"
          domain={[-180, 180]}
          ticks={yTicks}
          interval={0}
          allowDataOverflow
          width={1}
          tickSize={12}
          tick={false}
          axisLine={axisLine}
          tickLine={tickLine}
        />
        <Line
          dataKey="v"
          type="linear"
          stroke={LINE_COLOR}
          strokeWidth={2}
          dot={false}
          activeDot={false}
          isAnimationActive={false}
        />
      </LineChart>
    </div>
  );
}

export default function App() {
  return (
    <div
      style={{
        position: 'fixed',
        left: 0,
        top: 0,
        width: 2333,
        height: 1750,
        background: '#ffffff',
        overflow: 'hidden',
        fontFamily: "'DejaVu Sans', sans-serif",
      }}
    >
      {panels.map((p) => (
        <Panel key={p.name} data={p.data} left={COL_X[p.col]} top={ROW_Y[p.row]} />
      ))}
      <svg
        width={2333}
        height={1750}
        style={{ position: 'absolute', left: 0, top: 0, pointerEvents: 'none' }}
      >
        {panels.map((p) => (
          <text
            key={p.name}
            x={COL_X[p.col] + 50}
            y={ROW_Y[p.row] + LABEL_BASE[p.row]}
            fontSize={58}
            fill="#000000"
            fontFamily="'DejaVu Sans', sans-serif"
          >
            {`${p.name} Phase: ${dateLabel}`}
          </text>
        ))}
        <text
          x={1244}
          y={1313}
          fontSize={66}
          fill="#ff0000"
          fontFamily="'DejaVu Sans', sans-serif"
        >
          {footerText}
        </text>
      </svg>
    </div>
  );
}
